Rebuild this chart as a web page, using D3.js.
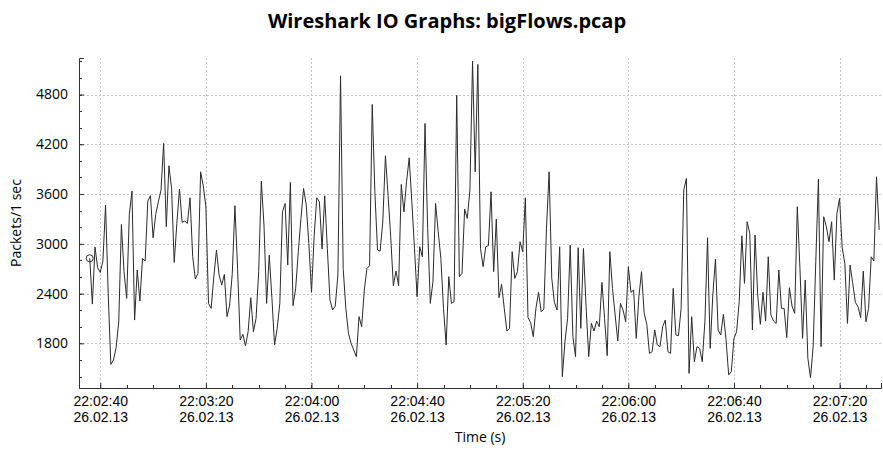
<!DOCTYPE html>
<html>
<head>
<meta charset="utf-8">
<script src="https://cdn.jsdelivr.net/npm/d3@7"></script>
<style>
  body { margin: 0; background: #fff; }
  svg { font-family: "Open Sans", "DejaVu Sans", sans-serif; }
</style>
</head>
<body>
<div id="chart"></div>
<script>
// seconds relative to 22:02:40, one sample per second
const startOffset = -4;
const packets = [
  2826, 2274, 2962, 2714, 2654, 2794, 3466, 2400, 1546, 1600,
  1750, 2061, 3234, 2664, 2342, 3354, 3636, 2081, 2684, 2310,
  2824, 2792, 3515, 3580, 3073, 3354, 3507, 3648, 4210, 3206,
  3941, 3668, 2776, 3246, 3660, 3258, 3274, 3246, 3555, 2844,
  2575, 2644, 3868, 3700, 3447, 2282, 2222, 2600, 2925, 2624,
  2503, 2631, 2122, 2262, 2644, 3459, 2704, 1840, 1909, 1772,
  1941, 2350, 1941, 2101, 2664, 3756, 3226, 2282, 2864, 2350,
  1780, 1981, 2282, 3386, 3487, 2744, 3740, 2254, 2463, 2905,
  3306, 3668, 3467, 3005, 2415, 3085, 3555, 3507, 2937, 3579,
  2945, 2322, 2202, 2250, 2624, 5025, 2704, 2222, 1921, 1800,
  1720, 1640, 2122, 2001, 2443, 2704, 2736, 4680, 3627, 2925,
  2913, 3266, 4061, 3587, 3085, 2495, 2672, 2495, 3716, 3386,
  3748, 4037, 3507, 2945, 2362, 2965, 2844, 4451, 3186, 2282,
  2543, 3487, 3145, 2824, 2222, 1780, 2604, 2282, 2302, 4792,
  2604, 2644, 3418, 3306, 3648, 5202, 3868, 5162, 2945, 2724,
  2965, 2977, 3627, 2664, 3298, 2350, 2511, 2222, 1949, 1981,
  2905, 2584, 2664, 3025, 2905, 3555, 2110, 2050, 1881, 2222,
  2415, 2182, 2214, 3186, 3868, 2584, 2294, 2202, 2965, 1399,
  1820, 2101, 2985, 1881, 1640, 2953, 1981, 2945, 2242, 1640,
  2041, 1949, 2069, 2001, 2535, 2101, 1652, 2905, 2463, 2142,
  1828, 2282, 2202, 2061, 2724, 2415, 2443, 1860, 2362, 2664,
  2162, 2029, 1680, 1700, 1961, 1780, 1760, 2001, 2081, 1700,
  1680, 2463, 1901, 1893, 2222, 3648, 3788, 1439, 2122, 1579,
  1760, 1740, 1579, 2061, 3073, 1740, 2383, 2816, 1961, 1901,
  2150, 1850, 1420, 1459, 1860, 1941, 2302, 3097, 2523, 3266,
  3125, 1961, 3105, 2383, 2029, 2415, 2069, 2844, 2142, 2069,
  2041, 2684, 2222, 2222, 1869, 2471, 2250, 2162, 3447, 2704,
  1860, 2563, 1620, 1387, 1760, 2784, 3780, 1760, 3326, 3206,
  3025, 3266, 2563, 3366, 3547, 2953, 2764, 2041, 2744, 2523,
  2294, 2242, 2110, 2672, 2061, 2222, 2844, 2792, 3808, 3166
];
const xTickTimes = ["22:02:40", "22:03:20", "22:04:00", "22:04:40", "22:05:20", "22:06:00", "22:06:40", "22:07:20"];
const xTickDate = "26.02.13";
const yTicks = [1800, 2400, 3000, 3600, 4200, 4800];

const W = 883, H = 454;
const margin = {top: 58, right: 2, bottom: 66, left: 79};
const width = W - margin.left - margin.right,
      height = H - margin.top - margin.bottom;

const parse = d3.timeParse("%d.%m.%y %H:%M:%S");
const base = parse(xTickDate + " " + xTickTimes[0]);
const sec = s => new Date(base.getTime() + s * 1000);

const series = packets.map((v, i) => ({t: sec(startOffset + i), v: v}));

const x = d3.scaleTime()
  .domain([sec(-8.06), sec(295.7)])
  .range([0, width]);
const y = d3.scaleLinear()
  .domain([1262, 5240])
  .range([height, 0]);

const svg = d3.select("#chart").append("svg")
  .attr("width", W)
  .attr("height", H);

svg.append("text")
  .attr("x", 447)
  .attr("y", 28)
  .attr("text-anchor", "middle")
  .attr("font-size", 20)
  .attr("font-weight", "bold")
  .attr("fill", "#000")
  .text("Wireshark IO Graphs: bigFlows.pcap");

const g = svg.append("g")
  .attr("transform", `translate(${margin.left},${margin.top})`);

const xMajor = xTickTimes.map(s => parse(xTickDate + " " + s));
const xMinor = d3.range(-0, 296, 10).map(sec);
const yMinor = d3.range(1400, 5240, 200);

// grid
g.append("g").selectAll("line")
  .data(yTicks).join("line")
  .attr("x1", 0).attr("x2", width)
  .attr("y1", d => Math.round(y(d)) + 0.5).attr("y2", d => Math.round(y(d)) + 0.5)
  .attr("stroke", "#c4c4c4").attr("stroke-dasharray", "2,2");
g.append("g").selectAll("line")
  .data(xMajor).join("line")
  .attr("y1", 0).attr("y2", height)
  .attr("x1", d => Math.round(x(d)) + 0.5).attr("x2", d => Math.round(x(d)) + 0.5)
  .attr("stroke", "#c4c4c4").attr("stroke-dasharray", "2,2");

// axes
const yAxis = g.append("g")
  .call(d3.axisLeft(y).tickValues(yTicks).tickFormat(d3.format("d")).tickSize(-5).tickPadding(11));
g.append("g").selectAll("line")
  .data(yMinor).join("line")
  .attr("x1", 0).attr("x2", 3)
  .attr("y1", d => Math.round(y(d)) + 0.5).attr("y2", d => Math.round(y(d)) + 0.5)
  .attr("stroke", "#333");

const xAxis = g.append("g")
  .attr("transform", `translate(0,${height})`)
  .call(d3.axisBottom(x).tickValues(xMajor).tickSize(-5).tickPadding(10).tickFormat(""));
g.append("g").selectAll("line")
  .data(xMinor).join("line")
  .attr("y1", height).attr("y2", height - 3)
  .attr("x1", d => Math.round(x(d)) + 0.5).attr("x2", d => Math.round(x(d)) + 0.5)
  .attr("stroke", "#333");

[yAxis, xAxis].forEach(a => {
  a.select(".domain").attr("stroke", "#333");
  a.selectAll(".tick line").attr("stroke", "#333");
  a.selectAll("text").attr("font-size", 14).attr("fill", "#000")
    .attr("font-family", "\"Open Sans\", \"DejaVu Sans\", sans-serif");
});

const lbl = xAxis.selectAll(".tick").append("text")
  .attr("fill", "#000")
  .attr("font-size", 14)
  .attr("text-anchor", "middle");
lbl.append("tspan").attr("x", 0).attr("y", 18).text(d => d3.timeFormat("%H:%M:%S")(d));
lbl.append("tspan").attr("x", 0).attr("y", 34).text(d => d3.timeFormat("%d.%m.%y")(d));

// data line
g.append("path")
  .datum(series)
  .attr("fill", "none")
  .attr("stroke", "#2b2b2b")
  .attr("stroke-width", 1)
  .attr("d", d3.line().x(d => x(d.t)).y(d => y(d.v)));

g.append("circle")
  .attr("cx", x(series[0].t))
  .attr("cy", y(series[0].v))
  .attr("r", 3.5)
  .attr("fill", "none")
  .attr("stroke", "#2b2b2b")
  .attr("stroke-width", 1);

// axis titles
svg.append("text")
  .attr("x", margin.left + width / 2)
  .attr("y", 442)
  .attr("text-anchor", "middle")
  .attr("font-size", 14)
  .text("Time (s)");
svg.append("text")
  .attr("transform", `translate(21,${margin.top + height / 2}) rotate(-90)`)
  .attr("text-anchor", "middle")
  .attr("font-size", 14)
  .text("Packets/1 sec");
</script>
</body>
</html>
